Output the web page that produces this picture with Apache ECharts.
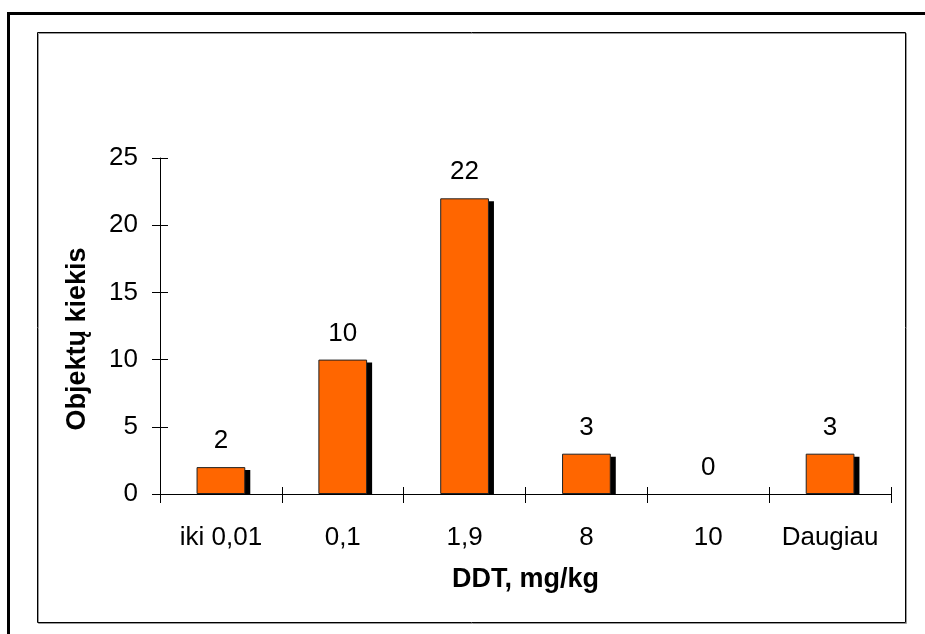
<!DOCTYPE html>
<html>
<head>
<meta charset="utf-8">
<script src="https://cdn.jsdelivr.net/npm/echarts@6/dist/echarts.min.js"></script>
<style>
  html, body { margin: 0; padding: 0; background: #fff; }
  #container { width: 925px; height: 634px; }
</style>
</head>
<body>
<div id="container"></div>
<script>
var categories = ['iki 0,01', '0,1', '1,9', '8', '10', 'Daugiau'];
var counts = [2, 10, 22, 3, 0, 3];
var yMin = 0, yMax = 25, yStep = 5;

var fontFamily = '"Liberation Sans", Arial, sans-serif';

var myChart = echarts.init(document.getElementById('container'), null, { renderer: 'canvas' });

// black drop shadow behind each bar, placed with the chart's own scales
function renderShadow(params, api) {
    var v = api.value(1);
    if (!v) return null;
    var top = api.coord([api.value(0), v]);
    var base = api.coord([api.value(0), 0]);
    var w = api.size([1, 0])[0] * 0.4;
    return {
        type: 'rect',
        shape: { x: top[0] - w / 2 + 5, y: top[1] + 3, width: w, height: base[1] - top[1] - 3 },
        style: { fill: '#000' }
    };
}

var option = {
    backgroundColor: '#fff',
    animation: false,
    textStyle: { fontFamily: fontFamily },
    grid: { left: 160, top: 158, width: 731, height: 336, outerBoundsMode: 'none' },
    graphic: [
        // outer thick frame (runs off the page right and bottom)
        { type: 'rect', shape: { x: 8.5, y: 13.5, width: 1000, height: 1000 },
          style: { fill: 'none', stroke: '#000', lineWidth: 3 } },
        // inner chart area frame
        { type: 'rect', shape: { x: 37.5, y: 32.5, width: 868, height: 590 },
          style: { fill: 'none', stroke: '#000', lineWidth: 1,
                   shadowColor: '#999', shadowOffsetX: 1, shadowOffsetY: 1 } }
    ],
    xAxis: [{
        type: 'category',
        data: categories,
        axisLine: { lineStyle: { color: '#000', width: 1 } },
        axisTick: { show: true, length: 9, lineStyle: { color: '#000' } },
        axisLabel: { color: '#000', fontSize: 26, margin: 31, interval: 0, fontFamily: fontFamily },
        name: 'DDT, mg/kg',
        nameLocation: 'middle',
        nameGap: 72,
        nameTextStyle: { color: '#000', fontSize: 27, fontWeight: 'bold', fontFamily: fontFamily }
    }, {
        // inner half of the crossing ticks
        type: 'category',
        data: categories,
        position: 'bottom',
        axisLine: { show: false },
        axisTick: { show: true, inside: true, length: 7, interval: 0, lineStyle: { color: '#000' } },
        axisLabel: { show: false }
    }],
    yAxis: [{
        type: 'value',
        min: yMin, max: yMax, interval: yStep,
        splitLine: { show: false },
        axisLine: { show: true, lineStyle: { color: '#000', width: 1 } },
        axisTick: { show: true, length: 8, lineStyle: { color: '#000' } },
        axisLabel: { color: '#000', fontSize: 26, margin: 22, fontFamily: fontFamily },
        name: 'Objektų kiekis',
        nameLocation: 'middle',
        nameGap: 69,
        nameTextStyle: { color: '#000', fontSize: 27, fontWeight: 'bold', fontFamily: fontFamily,
                         padding: [0, 26, 0, 0] }
    }, {
        type: 'value',
        position: 'left',
        min: yMin, max: yMax, interval: yStep,
        splitLine: { show: false },
        axisLine: { show: false },
        axisTick: { show: true, inside: true, length: 8, lineStyle: { color: '#000' } },
        axisLabel: { show: false }
    }],
    series: [{
        type: 'custom',
        renderItem: renderShadow,
        data: counts.map(function (v, i) { return [i, v]; }),
        z: 1,
        silent: true
    }, {
        type: 'bar',
        data: counts.map(function (v) {
            return v ? v : { value: v, itemStyle: { borderWidth: 0 } };
        }),
        barWidth: '40%',
        z: 3,
        itemStyle: {
            color: '#FF6600',
            borderColor: '#222',
            borderWidth: 1
        },
        label: {
            show: true,
            position: 'top',
            distance: 13,
            color: '#000',
            fontSize: 26,
            fontFamily: fontFamily
        }
    }]
};

myChart.setOption(option);
</script>
</body>
</html>
